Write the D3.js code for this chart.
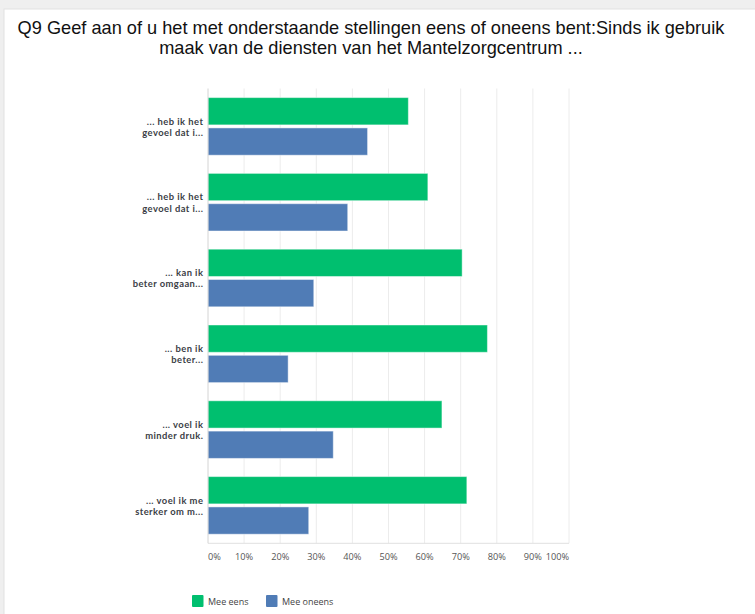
<!DOCTYPE html>
<html>
<head>
<meta charset="utf-8">
<script src="https://cdn.jsdelivr.net/npm/d3@7"></script>
<style>
  body { margin: 0; background: #f0f0f0; }
  #chart { width: 755px; height: 614px; }
</style>
</head>
<body>
<div id="chart"></div>
<script>
// Data
const categories = [
    ["... heb ik het", "gevoel dat i..."],
    ["... heb ik het", "gevoel dat i..."],
    ["... kan ik", "beter omgaan..."],
    ["... ben ik", "beter..."],
    ["... voel ik", "minder druk."],
    ["... voel ik me", "sterker om m..."]
];
const seriesNames = ["Mee eens", "Mee oneens"];
const meeEens = [55.5, 60.9, 70.4, 77.4, 64.8, 71.7];
const meeOneens = [44.2, 38.7, 29.3, 22.2, 34.7, 27.9];
const tickValues = [0, 10, 20, 30, 40, 50, 60, 70, 80, 90, 100];
const colors = ["#00BF6F", "#507CB6"];

const W = 755, H = 614;
const plot = { left: 208, right: 569, top: 88.5, bottom: 543.3 };

const svg = d3.select("#chart").append("svg")
    .attr("width", W)
    .attr("height", H);

// card background
svg.append("rect").attr("width", W).attr("height", H).attr("fill", "#efefef");
svg.append("rect")
    .attr("x", 4).attr("y", 9)
    .attr("width", W).attr("height", H)
    .attr("fill", "#fff")
    .attr("stroke", "#e2e2e2");

// Title
const title = svg.append("text")
    .attr("text-anchor", "middle")
    .style("font-family", "'Liberation Sans', Arial, sans-serif")
    .style("font-size", "18.2px")
    .attr("fill", "#111");
title.append("tspan").attr("x", 371).attr("y", 33.5)
    .text("Q9 Geef aan of u het met onderstaande stellingen eens of oneens bent:Sinds ik gebruik");
title.append("tspan").attr("x", 371).attr("y", 53.5)
    .text("maak van de diensten van het Mantelzorgcentrum ...");

// Scales
const x = d3.scaleLinear().domain([0, 100]).range([plot.left, plot.right]);
const y = d3.scaleBand()
    .domain(d3.range(categories.length))
    .range([plot.top, plot.bottom])
    .paddingInner(0.24)
    .paddingOuter(0.12);
const ySub = d3.scaleBand()
    .domain([0, 1])
    .range([0, y.bandwidth()])
    .paddingInner(0.1);

// Grid lines
svg.append("g")
    .selectAll("line")
    .data(tickValues.slice(1))
    .enter().append("line")
    .attr("x1", d => x(d)).attr("x2", d => x(d))
    .attr("y1", plot.top).attr("y2", plot.bottom)
    .attr("stroke", "#ececec")
    .attr("stroke-width", 1);

// Bottom axis line
svg.append("line")
    .attr("x1", plot.left).attr("x2", plot.right)
    .attr("y1", plot.bottom).attr("y2", plot.bottom)
    .attr("stroke", "#e0e0e0");

// Bars
const rows = categories.map((c, i) => ({ i, values: [meeEens[i], meeOneens[i]] }));
const groups = svg.append("g")
    .selectAll("g")
    .data(rows)
    .enter().append("g")
    .attr("transform", d => `translate(0,${y(d.i)})`);

groups.selectAll("rect")
    .data(d => d.values.map((v, s) => ({ v, s })))
    .enter().append("rect")
    .attr("x", x(0))
    .attr("y", d => ySub(d.s))
    .attr("width", d => x(d.v) - x(0))
    .attr("height", ySub.bandwidth())
    .attr("fill", d => colors[d.s])
    .attr("stroke", "#fff")
    .attr("stroke-opacity", 0.45)
    .attr("stroke-width", 1);

// Left axis line
svg.append("line")
    .attr("x1", plot.left).attr("x2", plot.left)
    .attr("y1", plot.top).attr("y2", plot.bottom)
    .attr("stroke", "#d4d4d4");

// Category labels, two lines each
const labels = svg.append("g")
    .selectAll("g")
    .data(categories)
    .enter().append("g");
labels.each(function (d, i) {
    const cy = y(i) + y.bandwidth() / 2;
    d3.select(this).selectAll("text")
        .data(d)
        .enter().append("text")
        .attr("text-anchor", "end")
        .attr("fill", "#3b4046")
        .style("font-family", "Lato, sans-serif")
        .style("font-weight", "bold")
        .style("font-size", "9.4px")
        .style("letter-spacing", "0.45px")
        .attr("x", 203.4)
        .attr("y", (t, k) => cy - 1.8 + k * 11.2)
        .text(t => t);
});

// Tick labels
svg.append("g")
    .selectAll("text")
    .data(tickValues)
    .enter().append("text")
    .attr("x", d => x(d))
    .attr("y", 560)
    .attr("text-anchor", d => d === 0 ? "start" : d === 100 ? "end" : "middle")
    .attr("fill", "#555")
    .style("font-family", "'Open Sans', sans-serif")
    .style("font-size", "9.2px")
    .text(d => d + "%");

// Legend
const legend = svg.append("g").attr("transform", "translate(192,595)");
const items = legend.selectAll("g")
    .data(seriesNames)
    .enter().append("g")
    .attr("transform", (d, i) => `translate(${i * 74},0)`);
items.append("rect")
    .attr("width", 11.5).attr("height", 12)
    .attr("rx", 1)
    .attr("fill", (d, i) => colors[i]);
items.append("text")
    .attr("x", 16).attr("y", 9.5)
    .attr("fill", "#444")
    .style("font-family", "'Open Sans', sans-serif")
    .style("font-size", "9px")
    .text(d => d);
</script>
</body>
</html>
